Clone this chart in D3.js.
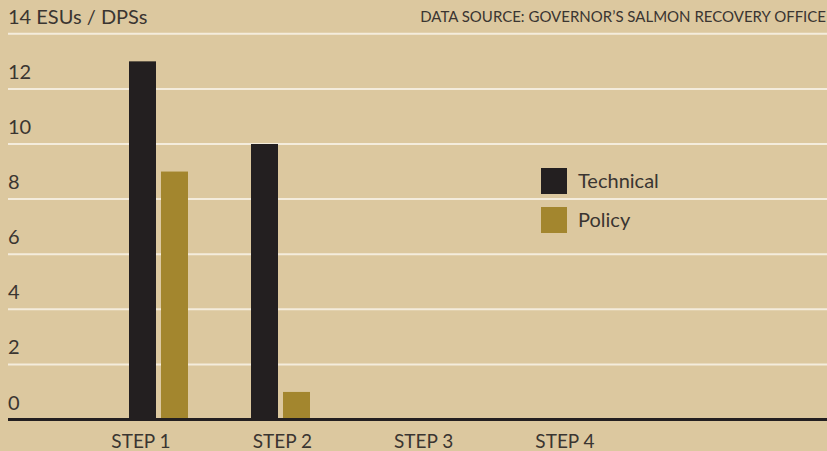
<!DOCTYPE html>
<html>
<head>
<meta charset="utf-8">
<script src="https://cdn.jsdelivr.net/npm/d3@7"></script>
<style>
  html, body { margin: 0; padding: 0; background: #dcc89f; }
  svg { display: block; }
  text { font-family: Lato, "Open Sans", sans-serif; font-weight: 400; fill: #3a3531; }
</style>
</head>
<body>
<svg id="chart" width="827" height="451"></svg>
<script>
// Recovery plan review progress, ESUs / DPSs per step
const steps = ["STEP 1", "STEP 2", "STEP 3", "STEP 4"];
const seriesNames = ["Technical", "Policy"];
const technical = [13, 10, 0, 0];
const policy = [9, 1, 0, 0];
const yTicks = [0, 2, 4, 6, 8, 10, 12, 14];
const yUnitLabel = "ESUs / DPSs";
const sourceText = "DATA SOURCE: GOVERNOR\u2019S SALMON RECOVERY OFFICE";

const colors = { Technical: "#231f20", Policy: "#a3862e" };

const W = 827, H = 451;
const svg = d3.select("#chart");

const y = d3.scaleLinear().domain([0, 14]).range([419.5, 33.8]);

// bar groups
const x0 = d3.scaleBand().domain(steps).range([129, 554]).paddingInner(63 / 122).paddingOuter(0);
const x1 = d3.scaleBand().domain(seriesNames).range([0, x0.bandwidth()]).paddingInner(5 / 32).paddingOuter(0);
// category labels
const xLabel = d3.scalePoint().domain(steps).range([141, 565]);

// gridlines
svg.append("g").selectAll("line")
  .data(yTicks.filter(d => d > 0))
  .join("line")
  .attr("x1", 8).attr("x2", W)
  .attr("y1", d => y(d)).attr("y2", d => y(d))
  .attr("stroke", "#f4ecdc").attr("stroke-width", 2);

// y tick labels (the top tick carries the unit)
svg.append("g").selectAll("text")
  .data(yTicks)
  .join("text")
  .attr("x", 8)
  .attr("y", d => y(d) - 10)
  .attr("font-size", 20)
  .text(d => d === 14 ? `${d} ${yUnitLabel}` : d);

// source note
svg.append("text")
  .attr("x", 826).attr("y", 22)
  .attr("text-anchor", "end")
  .attr("font-size", 15)
  .text(sourceText);

// bars
const rows = steps.map((s, i) => ({ step: s, values: [
  { key: "Technical", value: technical[i] },
  { key: "Policy", value: policy[i] }
]}));

svg.append("g").selectAll("g")
  .data(rows)
  .join("g")
  .attr("transform", d => `translate(${x0(d.step)},0)`)
  .selectAll("rect")
  .data(d => d.values)
  .join("rect")
  .attr("x", d => x1(d.key))
  .attr("width", x1.bandwidth())
  .attr("y", d => y(d.value))
  .attr("height", d => y(0) - y(d.value))
  .attr("fill", d => colors[d.key]);

// baseline
svg.append("line")
  .attr("x1", 8).attr("x2", W)
  .attr("y1", y(0)).attr("y2", y(0))
  .attr("stroke", "#231f20").attr("stroke-width", 3);

// category labels
svg.append("g").selectAll("text")
  .data(steps)
  .join("text")
  .attr("x", d => xLabel(d))
  .attr("y", 448)
  .attr("text-anchor", "middle")
  .attr("font-size", 19)
  .text(d => d);

// legend
const legend = svg.append("g").attr("transform", "translate(541,168)");
const li = legend.selectAll("g").data(seriesNames).join("g")
  .attr("transform", (d, i) => `translate(0,${i * 39})`);
li.append("rect").attr("width", 26).attr("height", 26).attr("fill", d => colors[d]);
li.append("text").attr("x", 37).attr("y", 20).attr("font-size", 20).text(d => d);
</script>
</body>
</html>
